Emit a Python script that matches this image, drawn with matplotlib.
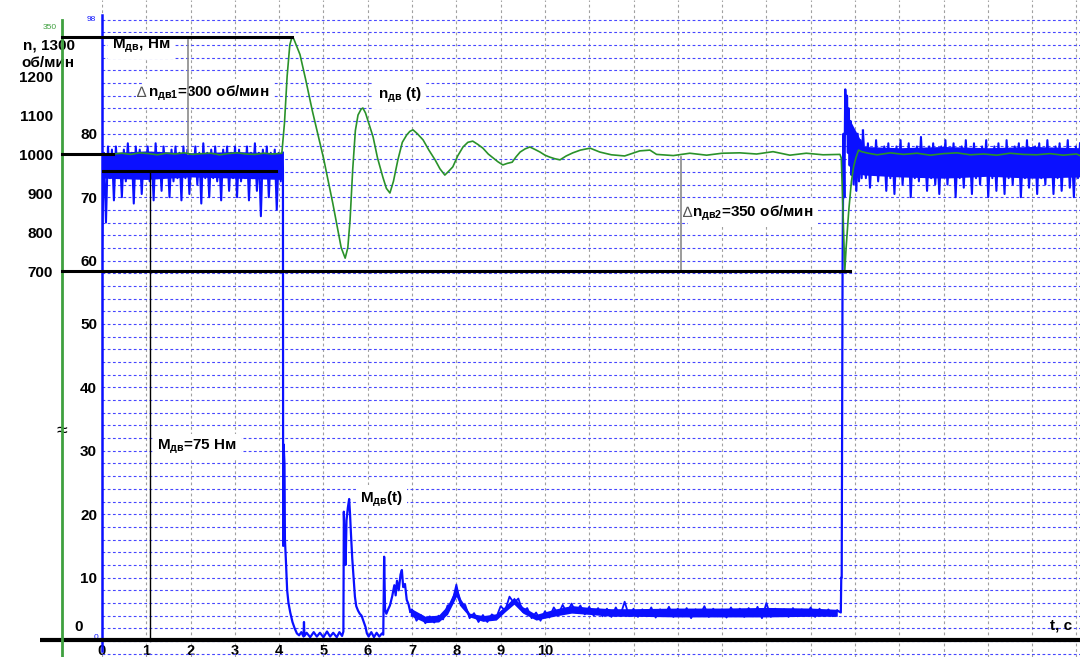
import numpy as np
import matplotlib
matplotlib.use("Agg")
import matplotlib.pyplot as plt

plt.rcParams['font.family'] = ['Liberation Sans', 'DejaVu Sans']
plt.rcParams['font.weight'] = 'bold'

# ---------------- data ----------------
# time tick labels
time_ticks = [0, 1, 2, 3, 4, 5, 6, 7, 8, 9, 10]
torque_ticks = [10, 20, 30, 40, 50, 60, 70, 80]
speed_ticks = [700, 800, 900, 1000, 1100, 1200]

# torque, steady noisy segment before the load drop (t = 0 .. 4.08 s)
torque_a = [62, 77, 66, 78, 73, 77.5, 69.5, 78, 73, 76.5, 70, 77.5, 72.5, 78.5, 73.5, 77, 69, 78,
            73, 77.5, 70.5, 76.5, 73, 78, 72.5, 77, 69.5, 78.5, 73, 77, 71, 78, 73.5, 76.5, 70,
            77.5, 72.5, 78, 73, 77, 69.5, 78, 73, 77.5, 70.5, 76.5, 73.5, 78, 72, 77, 69, 78.5,
            73, 77, 70, 77.5, 73, 78, 72.5, 76.5, 69.5, 77.5, 73.5, 78, 71, 77, 73, 78, 70, 77.5,
            72.5, 76.5, 73, 78, 69.5, 77, 73, 78.5, 71, 77, 67, 77.5, 73, 78, 70, 77, 73.5, 77.5,
            68, 77, 72.5, 77]
torque_a_end = 4.08
# dense core of that noise band (lower / upper edge)
band_a_t = [0.05, 1.0, 2.0, 3.0, 4.06]
band_a_lo = [73.0, 72.8, 73.2, 73.0, 72.8]
band_a_hi = [77.0, 77.3, 77.0, 77.2, 77.0]

# torque transient after the load drop
torque_b_t = [4.085, 4.09, 4.10, 4.12, 4.13, 4.15, 4.18, 4.21, 4.25, 4.30, 4.35, 4.40, 4.45, 4.50,
              4.55, 4.56, 4.57, 4.62, 4.70, 4.78, 4.85, 4.92, 5.00, 5.08, 5.15, 5.22, 5.30, 5.36,
              5.42, 5.45, 5.46, 5.48, 5.50, 5.52, 5.55, 5.58, 5.60, 5.62, 5.65, 5.68, 5.71, 5.74,
              5.78, 5.82, 5.86, 5.90, 5.95, 5.98, 6.02, 6.08, 6.14, 6.20, 6.26, 6.32, 6.35, 6.37,
              6.39, 6.42, 6.46, 6.50, 6.55, 6.60, 6.63, 6.66, 6.70, 6.74, 6.77, 6.80, 6.84, 6.88,
              6.92, 6.96]
torque_b_v = [74.0, 15, 31, 28, 16, 13, 8, 6, 4.5, 3.0, 2.0, 1.2, 0.9, 1.4,
              0.7, 3.0, 0.8, 1.3, 0.6, 1.4, 0.7, 1.3, 0.6, 1.5, 0.7, 1.3, 0.6, 1.4,
              0.8, 1.5, 20.4, 15, 12, 19, 21, 22.4, 20, 17, 13, 10, 7, 5.5,
              4.8, 4.3, 4.0, 3.2, 2.2, 1.2, 0.7, 1.4, 0.6, 1.3, 0.7, 1.2, 1.0, 13.3,
              5.0, 4.3, 5.0, 5.6, 7.0, 8.8, 7.2, 9.5, 8.0, 10.5, 11.2, 8.5, 9.0, 6.5,
              5.8, 4.6]

# torque, damped low-load segment (t = 7.0 .. 16.6 s, every 0.1 s)
torque_c = [5.0, 3.2, 4.1, 2.8, 3.9, 2.9, 4.0, 3.4, 5.6, 5.8, 8.9, 5.6, 5.7, 3.6, 4.4, 3.0,
            4.1, 3.0, 4.2, 3.7, 5.5, 4.8, 7.0, 6.0, 6.7, 4.6, 5.2, 3.6, 4.5, 3.2, 4.7, 3.7,
            5.3, 4.2, 5.7, 4.4, 5.9, 4.5, 5.6, 4.2, 5.4, 4.0, 5.2, 3.9, 5.1, 3.8, 5.3, 4.0,
            6.2, 3.9, 5.1, 3.8, 5.0, 3.9, 5.3, 3.7, 5.0, 4.0, 5.4, 3.8, 5.1, 3.9, 5.2, 3.6,
            5.0, 4.0, 5.5, 3.8, 5.1, 3.9, 5.0, 3.7, 5.3, 4.0, 5.1, 3.8, 5.2, 3.9, 5.4, 3.6,
            6.0, 3.8, 5.1, 4.0, 5.0, 3.8, 5.2, 3.9, 5.0, 4.0, 5.3, 3.8, 5.1, 4.0, 5.0, 3.9,
            4.8]
torque_c_start, torque_c_end = 7.0, 16.6
# ragged thickness of that segment (lower / upper edge)
band_c_t = [6.96, 7.3, 7.6, 7.8, 8.0, 8.1, 8.3, 8.6, 8.9, 9.1, 9.3, 9.5, 9.8, 10.2, 10.6, 11.0,
            11.5, 12.0, 13.0, 14.0, 15.0, 16.0, 16.6]
band_c_lo = [4.0, 2.9, 3.0, 4.2, 7.0, 5.4, 3.8, 3.1, 3.3, 4.6, 5.8, 4.4, 3.3, 3.9, 4.4, 4.2,
             3.9, 3.9, 3.8, 3.8, 3.8, 3.9, 3.9]
band_c_hi = [5.2, 3.9, 4.1, 5.6, 8.6, 6.6, 4.4, 4.0, 4.3, 5.5, 6.9, 5.4, 4.2, 5.0, 5.6, 5.3,
             5.1, 5.1, 5.2, 5.2, 5.3, 5.2, 5.0]

# torque, load step back on
torque_d_t = [16.6, 16.68, 16.69, 16.70, 16.72, 16.74, 16.76, 16.78, 16.80, 16.82, 16.84, 16.86,
              16.88, 16.90, 16.92, 16.94, 16.97, 17.00, 17.03, 17.06, 17.09, 17.12, 17.15, 17.18]
torque_d_v = [4.8, 4.5, 10, 10, 60, 80, 70, 87, 80, 86, 77, 84, 75, 82, 73.5, 80.5, 72, 79.5,
              71, 80, 72.5, 79, 73, 80.5]

# torque, steady noisy segment after the step (t = 17.2 .. 22.08 s)
torque_e = [78, 73, 78.5, 71.5, 77.5, 73.5, 79, 72.5, 77, 74, 78, 71, 78.5, 73, 77.5, 70.5, 78,
            73.5, 79, 72, 77, 74, 78.5, 70, 77.5, 73, 78, 72.5, 79.5, 73.5, 77, 71, 78, 73,
            78.5, 72, 77.5, 70.5, 78, 73.5, 79, 72, 77, 74, 78.5, 70, 77.5, 73, 78, 71.5, 79,
            73.5, 77, 70.5, 78.5, 73, 77.5, 72, 78, 74, 79, 70, 77.5, 73, 78, 71, 78.5, 73.5,
            77, 70.5, 79, 73, 77.5, 72, 78, 74, 78.5, 70, 77, 73, 79, 71.5, 77.5, 73.5, 78,
            70.5, 78.5, 73, 77, 72, 79, 73.5, 77.5, 70.5, 78, 73, 78.5, 71, 77, 74, 79, 71.5,
            77.5, 70, 78, 73, 78.5]
torque_e_start, torque_e_end = 17.2, 22.08
band_e_t = [16.9, 17.2, 18.0, 19.0, 20.0, 21.0, 22.08]
band_e_lo = [74.0, 73.5, 73.2, 73.0, 73.3, 73.0, 73.2]
band_e_hi = [82.0, 78.0, 77.8, 78.0, 77.8, 78.0, 77.8]

# motor speed n(t), rpm
speed_t = [0.25, 0.45, 0.65, 0.85, 1.05, 1.25, 1.45, 1.65, 1.85, 2.05, 2.25, 2.45, 2.65, 2.85,
           3.05, 3.25, 3.45, 3.65, 3.85, 4.06,
           4.12, 4.18, 4.24, 4.29, 4.33, 4.40, 4.47, 4.60, 4.75, 4.85, 5.00, 5.10, 5.21, 5.30,
           5.40, 5.49, 5.55, 5.60, 5.66, 5.72, 5.78, 5.85, 5.89, 5.95, 6.02, 6.12, 6.22, 6.34,
           6.42, 6.50, 6.58, 6.68, 6.78, 6.88, 6.95, 7.02, 7.12, 7.25, 7.38, 7.52, 7.63, 7.74,
           7.82, 7.92, 8.03, 8.15, 8.26, 8.37, 8.48, 8.60, 8.72, 8.83, 8.94, 9.05, 9.15, 9.26,
           9.35, 9.44, 9.55, 9.66, 9.77, 9.89, 10.0, 10.11, 10.22, 10.34, 10.48, 10.63, 10.8,
           11.02, 11.24, 11.5, 11.8, 12.14, 12.37, 12.52, 12.9, 13.27, 13.65, 14.0, 14.4, 14.78,
           15.15, 15.53, 15.9, 16.28, 16.66,
           16.69, 16.73, 16.77, 16.80, 16.86, 16.92, 16.97, 17.02, 17.08, 17.15, 17.3,
           17.5, 17.8, 18.1, 18.4, 18.7, 19.0, 19.3, 19.6, 19.9, 20.2, 20.5, 20.8, 21.1, 21.4,
           21.7, 22.0, 22.1]
speed_v = [1000, 1002, 999, 1003, 1001, 998, 1002, 1000, 1003, 999, 1001, 1002, 998, 1001,
           1003, 1000, 999, 1002, 1000, 1002,
           1080, 1200, 1280, 1300, 1295, 1275, 1255, 1190, 1110, 1062, 990, 935, 874, 820,
           760, 733, 760, 830, 960, 1060, 1100, 1115, 1118, 1105, 1080, 1044, 990, 941,
           912, 900, 930, 985, 1030, 1049, 1058, 1062, 1052, 1036, 1010, 985, 962, 946,
           955, 967, 995, 1018, 1030, 1033, 1025, 1015, 1000, 990, 980, 972, 976, 979,
           993, 1005, 1013, 1018, 1012, 1005, 997, 992, 988, 985, 995, 1003, 1010,
           1015, 1005, 998, 995, 1008, 1010, 999, 996, 1002, 997, 1002, 1003, 1000,
           1006, 997, 1002, 998, 999,
           990, 850, 700, 760, 856, 930, 968, 990, 1010, 1006, 1002,
           998, 1003, 999, 1002, 997, 1001, 1003, 998, 1000, 997, 1002, 999, 998, 1001,
           997, 1000, 995]

# reference levels
speed_levels = [1300, 1000, 700]
torque_level = 74.2          # mean torque before the drop (labelled 75 Nm)

# ---------------- styling ----------------
BLUE = '#0a10ff'
GREEN = '#2a922a'
GREEN_AX = '#3fa03f'
GRID_BLUE = '#4646ff'
GRID_GRAY = '#a0a0a0'

W, H = 1080, 657
fig = plt.figure(figsize=(W / 100, H / 100), dpi=100)
ax = fig.add_axes([102 / W, 0, 978 / W, 1])
ax.set_xlim(0, 22.08)
ax.set_ylim(-2.52, 101.1)

ax2 = ax.twinx()
ax2.set_ylim(-289.7, 1394.9)

for s in ['top', 'right', 'bottom']:
    ax.spines[s].set_visible(False)
    ax2.spines[s].set_visible(False)
ax.spines['left'].set_color(BLUE)
ax.spines['left'].set_linewidth(1.8)
ax.spines['left'].set_bounds(-1.5, 98.8)

ax2.spines['left'].set_visible(True)
ax2.spines['left'].set_position(('outward', 28.8))
ax2.spines['left'].set_color(GREEN_AX)
ax2.spines['left'].set_linewidth(2.0)
ax2.spines['left'].set_bounds(-289.7, 1343)
ax2.yaxis.tick_left()

# grid
ax.set_xticks(time_ticks)
ax.set_xticklabels([str(v) for v in time_ticks])
ax.set_xticks(np.arange(1, 23), minor=True)
ax.set_yticks(torque_ticks)
ax.set_yticklabels([str(v) for v in torque_ticks])
ax.set_yticks(np.arange(-2, 99, 2), minor=True)
ax.xaxis.grid(True, which='both', color=GRID_GRAY, linestyle=(0, (2.5, 2.5)), linewidth=0.8)
ax.yaxis.grid(True, which='both', color=GRID_BLUE, linestyle=(0, (2.5, 2.2)), linewidth=0.8)
ax.set_axisbelow(True)

ax.tick_params(axis='x', which='both', length=0, pad=-9.5, labelsize=10.5)
ax.tick_params(axis='y', which='both', length=0, pad=3.5, labelsize=11)
ax2.set_yticks(speed_ticks)
ax2.set_yticklabels([str(v) for v in speed_ticks])
ax2.tick_params(axis='y', length=0, pad=6.5, labelsize=11)
for lab in ax.get_xticklabels() + ax.get_yticklabels() + ax2.get_yticklabels():
    lab.set_fontweight('bold')

# ---------------- torque curve ----------------
tA = np.linspace(0, torque_a_end, len(torque_a))
tC = np.linspace(torque_c_start, torque_c_end, len(torque_c))
tE = np.linspace(torque_e_start, torque_e_end, len(torque_e))
ax.fill_between(band_a_t, band_a_lo, band_a_hi, color=BLUE, lw=0, zorder=3)
ax.fill_between(band_c_t, band_c_lo, band_c_hi, color=BLUE, lw=0, zorder=3)
ax.fill_between(band_e_t, band_e_lo, band_e_hi, color=BLUE, lw=0, zorder=3)
ax.plot(tA, torque_a, color=BLUE, lw=1.5, zorder=3)
ax.plot([tA[-1]] + torque_b_t, [torque_a[-1]] + torque_b_v, color=BLUE, lw=1.6, zorder=3)
ax.plot([torque_b_t[-1]] + list(tC), [torque_b_v[-1]] + torque_c, color=BLUE, lw=1.3, zorder=3)
ax.plot(torque_d_t, torque_d_v, color=BLUE, lw=1.6, zorder=3)
ax.plot([torque_d_t[-1]] + list(tE), [torque_d_v[-1]] + torque_e, color=BLUE, lw=1.5, zorder=3)

# torque reference lines
ax.plot([0, 3.93], [torque_level, torque_level], color='black', lw=2.2, zorder=5)
ax.plot([1.08, 1.08], [torque_level, 0], color='black', lw=1.0, zorder=5)
ax.plot([-1.4, 22.08], [0.15, 0.15], color='black', lw=3.0, zorder=6, clip_on=False,
        solid_capstyle='butt')

# ---------------- speed curve ----------------
ax2.plot(speed_t, speed_v, color=GREEN, lw=1.2, zorder=4)
ax2.plot([-0.9, 4.29], [speed_levels[0]] * 2, color='black', lw=2.2, clip_on=False, zorder=6)
ax2.plot([-0.9, 0.25], [speed_levels[1]] * 2, color='black', lw=2.2, clip_on=False, zorder=6)
ax2.plot([-0.9, 16.88], [speed_levels[2]] * 2, color='black', lw=2.2, clip_on=False, zorder=6)
ax2.plot([1.94, 1.94], [1000, 1292], color='#8a8a8a', lw=1.2, zorder=3)
ax2.plot([13.07, 13.07], [992, 700], color='#8a8a8a', lw=1.2, zorder=3)

# ---------------- annotations ----------------
box = dict(facecolor='white', edgecolor='none', pad=3)
tk = dict(fontsize=11, fontweight='bold', color='black', va='center', ha='left', zorder=4)

ax.text(0.23, 93.85, r'$\mathregular{M_{дв}}$, Нм', bbox=box, **tk)
ax.text(0.79, 86.4, '∆', fontsize=11, fontweight='normal', color='#555555', va='center',
        ha='left', zorder=5, bbox=dict(facecolor='white', edgecolor='none', pad=1))
ax.text(1.04, 86.4, r'$\mathregular{n_{дв1}}$=300 об/мин', bbox=box, **tk)
ax.text(6.23, 86.1, r'$\mathregular{n_{дв}}$ (t)', bbox=box, **tk)
ax.text(13.12, 67.5, '∆', fontsize=11, fontweight='normal', color='#555555', va='center',
        ha='left', zorder=5, bbox=dict(facecolor='white', edgecolor='none', pad=1))
ax.text(13.33, 67.5, r'$\mathregular{n_{дв2}}$=350 об/мин', bbox=box, **tk)
ax.text(1.24, 30.6, r'$\mathregular{M_{дв}}$=75 Нм', bbox=box, **tk)
ax.text(5.82, 22.4, r'$\mathregular{M_{дв}}$(t)', bbox=box, **tk)
ax.text(21.4, 2.5, 't, c', **tk)

ax.text(-1.78, 93.85, 'n, 1300', fontsize=11, fontweight='bold', va='center', ha='left',
        zorder=7, bbox=dict(facecolor='white', edgecolor='none', pad=0.5))
ax.text(-1.82, 91.2, 'об/мин', fontsize=11, fontweight='bold', va='center', ha='left', zorder=7)
ax.text(-1.35, 96.7, '350', fontsize=6, fontweight='normal', color=GREEN_AX, va='center',
        ha='left')
ax.text(-0.34, 98.1, '98', fontsize=6, fontweight='normal', color=BLUE, va='center', ha='left')
ax.text(-0.2, 0.6, '0', fontsize=6, fontweight='normal', color=BLUE, va='center', ha='left')
ax.text(-0.63, 2.2, '0', fontsize=11, fontweight='bold', va='center', ha='left')
ax.text(-0.9, 33.0, '≈', fontsize=14, fontweight='normal', va='center', ha='center',
        zorder=7)

fig.savefig('out.png', dpi=100)
